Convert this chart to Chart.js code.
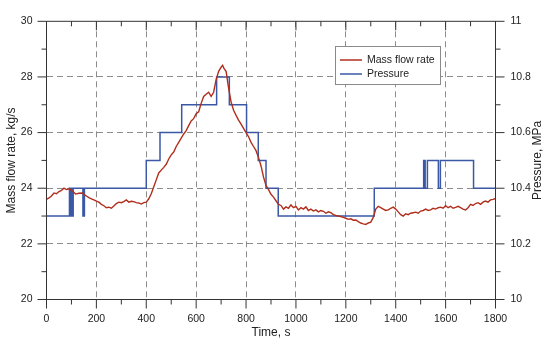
<!DOCTYPE html>
<html>
<head>
<meta charset="utf-8">
<script src="https://cdn.jsdelivr.net/npm/chart.js@4"></script>
<style>
  body { margin: 0; background: #fff; }
</style>
</head>
<body>
<canvas id="flowChart" width="550" height="343"></canvas>
<script>
// Colors and fonts
const flowColor = '#b02e1c',
      pressColor = '#3a58a6',
      axisColor = '#333',
      gridColor = '#8c8c8c',
      textColor = '#222',
      fontFamily = '"Liberation Sans", Arial, sans-serif';

// Tick values (major carry labels, minor are only marks)
const xTicks = [0, 200, 400, 600, 800, 1000, 1200, 1400, 1600, 1800];
const xMinorTicks = [100, 300, 500, 700, 900, 1100, 1300, 1500, 1700];
const yTicks = [20, 22, 24, 26, 28, 30];
const yMinorTicks = [21, 23, 25, 27, 29];
const y2Ticks = [10, 10.2, 10.4, 10.6, 10.8, 11];
const y2MinorTicks = [10.1, 10.3, 10.5, 10.7, 10.9];

// Mass flow rate, kg/s
const flowTime = [
  0, 10, 20, 30, 40, 50, 60, 70, 80, 90, 100, 110, 117, 130, 144, 150, 160, 170, 180, 190,
  200, 210, 220, 230, 240, 250, 260, 270, 280, 290, 300, 310, 320, 330, 340, 350, 360, 370, 380, 390,
  400, 410, 420, 430, 440, 450, 460, 470, 480, 490, 500, 510, 520, 530, 540, 550, 560, 570, 580, 590,
  600, 610, 620, 630, 640, 650, 660, 670, 680, 690, 700, 706, 712, 720, 730, 740, 750, 760, 770, 780,
  790, 800, 810, 820, 830, 840, 850, 860, 870, 880, 890, 900, 910, 920, 930, 940, 950, 960, 970, 980,
  990, 1000, 1010, 1020, 1030, 1040, 1050, 1060, 1070, 1080, 1090, 1100, 1110, 1120, 1130, 1140, 1150, 1160, 1170, 1180,
  1190, 1200, 1210, 1220, 1230, 1240, 1250, 1260, 1270, 1280, 1290, 1300, 1310, 1320, 1330, 1340, 1350, 1360, 1370, 1380,
  1390, 1400, 1410, 1420, 1430, 1440, 1450, 1460, 1470, 1480, 1490, 1500, 1510, 1520, 1530, 1540, 1550, 1560, 1570, 1580,
  1590, 1600, 1610, 1620, 1630, 1640, 1650, 1660, 1670, 1680, 1690, 1700, 1710, 1720, 1730, 1740, 1750, 1760, 1770, 1780,
  1790, 1800
];
const flowRate = [
  23.60, 23.65, 23.72, 23.83, 23.80, 23.88, 23.92, 24.00, 23.95, 23.98, 23.93, 23.85, 23.79, 23.82, 23.83, 23.78, 23.72, 23.66, 23.62, 23.58,
  23.54, 23.50, 23.42, 23.37, 23.30, 23.32, 23.28, 23.36, 23.45, 23.50, 23.48, 23.52, 23.58, 23.50, 23.53, 23.52, 23.48, 23.47, 23.43, 23.48,
  23.50, 23.62, 23.80, 24.05, 24.30, 24.55, 24.65, 24.75, 24.86, 25.05, 25.20, 25.30, 25.50, 25.65, 25.80, 25.95, 26.07, 26.25, 26.42, 26.50,
  26.68, 26.75, 27.05, 27.30, 27.38, 27.45, 27.30, 27.45, 27.90, 28.20, 28.35, 28.42, 28.30, 28.20, 27.60, 27.10, 26.80, 26.62, 26.45, 26.30,
  26.15, 26.00, 25.85, 25.65, 25.50, 25.35, 25.10, 24.80, 24.40, 24.10, 23.95, 23.78, 23.68, 23.55, 23.42, 23.38, 23.25, 23.33, 23.28, 23.40,
  23.30, 23.35, 23.22, 23.30, 23.25, 23.33, 23.20, 23.25, 23.18, 23.22, 23.15, 23.20, 23.17, 23.10, 23.15, 23.12, 23.05, 23.02, 23.00, 22.98,
  22.95, 22.92, 22.88, 22.90, 22.85, 22.86, 22.80, 22.75, 22.72, 22.70, 22.75, 22.78, 22.95, 23.25, 23.35, 23.30, 23.25, 23.20, 23.22, 23.28,
  23.32, 23.25, 23.15, 23.05, 23.00, 23.08, 23.05, 23.10, 23.12, 23.14, 23.10, 23.18, 23.20, 23.25, 23.20, 23.22, 23.28, 23.25, 23.30, 23.32,
  23.28, 23.37, 23.30, 23.35, 23.28, 23.31, 23.35, 23.30, 23.25, 23.22, 23.30, 23.42, 23.38, 23.45, 23.48, 23.42, 23.50, 23.54, 23.50, 23.58,
  23.60, 23.63
];

// Pressure, MPa: each value holds from its time onward (step line)
const pressTime = [0, 92, 95, 99, 103, 107, 146, 152, 400, 455, 542, 682, 733, 802, 849, 880, 929, 1314, 1512, 1518, 1527, 1571, 1579, 1712, 1800];
const pressVal  = [10.3, 10.4, 10.3, 10.4, 10.3, 10.4, 10.3, 10.4, 10.5, 10.6, 10.7, 10.8, 10.7, 10.6, 10.5, 10.4, 10.3, 10.4, 10.5, 10.4, 10.5, 10.4, 10.5, 10.4, 10.4];

const tickFont = { family: fontFamily, size: 10.5 },
      titleFont = { family: fontFamily, size: 12 };

// Frame top line, tick marks, right-hand title and the legend box
const decorations = {
  id: 'decorations',
  afterDraw(chart) {
    const { ctx, chartArea: a, scales: { x, y, y2 } } = chart;
    ctx.save();
    ctx.strokeStyle = axisColor;
    ctx.lineWidth = 1;
    ctx.beginPath();
    ctx.moveTo(a.left, a.top);
    ctx.lineTo(a.right, a.top);
    const xMark = (v, len) => {
      const px = x.getPixelForValue(v);
      ctx.moveTo(px, a.bottom); ctx.lineTo(px, a.bottom + len);
      ctx.moveTo(px, a.top);    ctx.lineTo(px, a.top + len);
    };
    xTicks.forEach(v => xMark(v, 9));
    xMinorTicks.forEach(v => xMark(v, 5));
    const yMark = (v, len) => {
      const py = y.getPixelForValue(v);
      ctx.moveTo(a.left - len, py); ctx.lineTo(a.left, py);
    };
    yTicks.forEach(v => yMark(v, 9));
    yMinorTicks.forEach(v => yMark(v, 5));
    const y2Mark = (v, len) => {
      const py = y2.getPixelForValue(v);
      ctx.moveTo(a.right, py); ctx.lineTo(a.right + len, py);
    };
    y2Ticks.forEach(v => y2Mark(v, 9));
    y2MinorTicks.forEach(v => y2Mark(v, 5));
    ctx.stroke();

    // Right axis title, reading bottom to top
    ctx.fillStyle = textColor;
    ctx.font = '12px ' + fontFamily;
    ctx.textAlign = 'center';
    ctx.textBaseline = 'middle';
    ctx.translate(538, (a.top + a.bottom) / 2);
    ctx.rotate(-Math.PI / 2);
    ctx.fillText('Pressure, MPa', 0, 0);
    ctx.setTransform(1, 0, 0, 1, 0, 0);

    // Legend
    ctx.fillStyle = '#fff';
    ctx.fillRect(335.5, 46.5, 105, 38);
    ctx.strokeStyle = '#8a8a8a';
    ctx.strokeRect(335.5, 46.5, 105, 38);
    ctx.font = '10.5px ' + fontFamily;
    ctx.textAlign = 'left';
    chart.data.datasets.forEach((ds, i) => {
      const ly = 60 + i * 14;
      ctx.strokeStyle = ds.borderColor;
      ctx.lineWidth = 1.5;
      ctx.beginPath();
      ctx.moveTo(340, ly); ctx.lineTo(362, ly);
      ctx.stroke();
      ctx.fillStyle = textColor;
      ctx.fillText(ds.label, 367, ly + 0.5);
    });
    ctx.restore();
  }
};

const flowChart = new Chart(document.getElementById('flowChart'), {
  type: 'line',
  data: {
    datasets: [
      { label: 'Mass flow rate',
        data: flowTime.map((t, i) => ({ x: t, y: flowRate[i] })),
        borderColor: flowColor,
        borderWidth: 1.4,
        yAxisID: 'y'
      },
      { label: 'Pressure',
        data: pressTime.map((t, i) => ({ x: t, y: pressVal[i] })),
        borderColor: pressColor,
        borderWidth: 1.5,
        stepped: true,
        yAxisID: 'y2'
      }
    ]
  },
  options: {
    responsive: false,
    animation: false,
    events: [],
    layout: { padding: { top: 8.5, left: 0, right: 0, bottom: 0 } },
    elements: { point: { radius: 0 }, line: { tension: 0 } },
    plugins: { legend: { display: false }, tooltip: { enabled: false } },
    scales: {
      x: {
        type: 'linear',
        position: 'bottom',
        min: 0, max: 1800,
        afterBuildTicks: s => { s.ticks = xTicks.map(v => ({ value: v })); },
        afterFit: s => { s.height = 43.5; },
        ticks: { font: tickFont, color: textColor, padding: 13.5, maxRotation: 0, callback: v => String(v) },
        grid: {
          drawTicks: false,
          color: c => (c.tick && (c.tick.value === 0 || c.tick.value === 1800)) ? 'transparent' : gridColor
        },
        border: { color: axisColor, width: 1, dash: [6, 4] },
        title: { display: true, text: 'Time, s', font: titleFont, color: textColor, padding: { top: 0, bottom: 3 } }
      },
      y: {
        position: 'left',
        min: 20, max: 30,
        afterBuildTicks: s => { s.ticks = yTicks.map(v => ({ value: v })); },
        afterFit: s => { s.width = 46.5; },
        ticks: { font: tickFont, color: textColor, padding: 14 },
        grid: {
          drawTicks: false,
          color: c => (c.tick && (c.tick.value === 20 || c.tick.value === 30)) ? 'transparent' : gridColor
        },
        border: { color: axisColor, width: 1, dash: [6, 4] },
        title: { display: true, text: 'Mass flow rate, kg/s', font: titleFont, color: textColor, padding: { top: 4, bottom: 0 } }
      },
      y2: {
        position: 'right',
        min: 10, max: 11,
        afterBuildTicks: s => { s.ticks = y2Ticks.map(v => ({ value: v })); },
        afterFit: s => { s.width = 54.5; },
        ticks: { font: tickFont, color: textColor, padding: 15, callback: v => String(Number(v.toFixed(1))) },
        grid: { drawTicks: false, drawOnChartArea: false },
        border: { color: axisColor, width: 1 }
      }
    }
  },
  plugins: [decorations]
});
</script>
</body>
</html>
